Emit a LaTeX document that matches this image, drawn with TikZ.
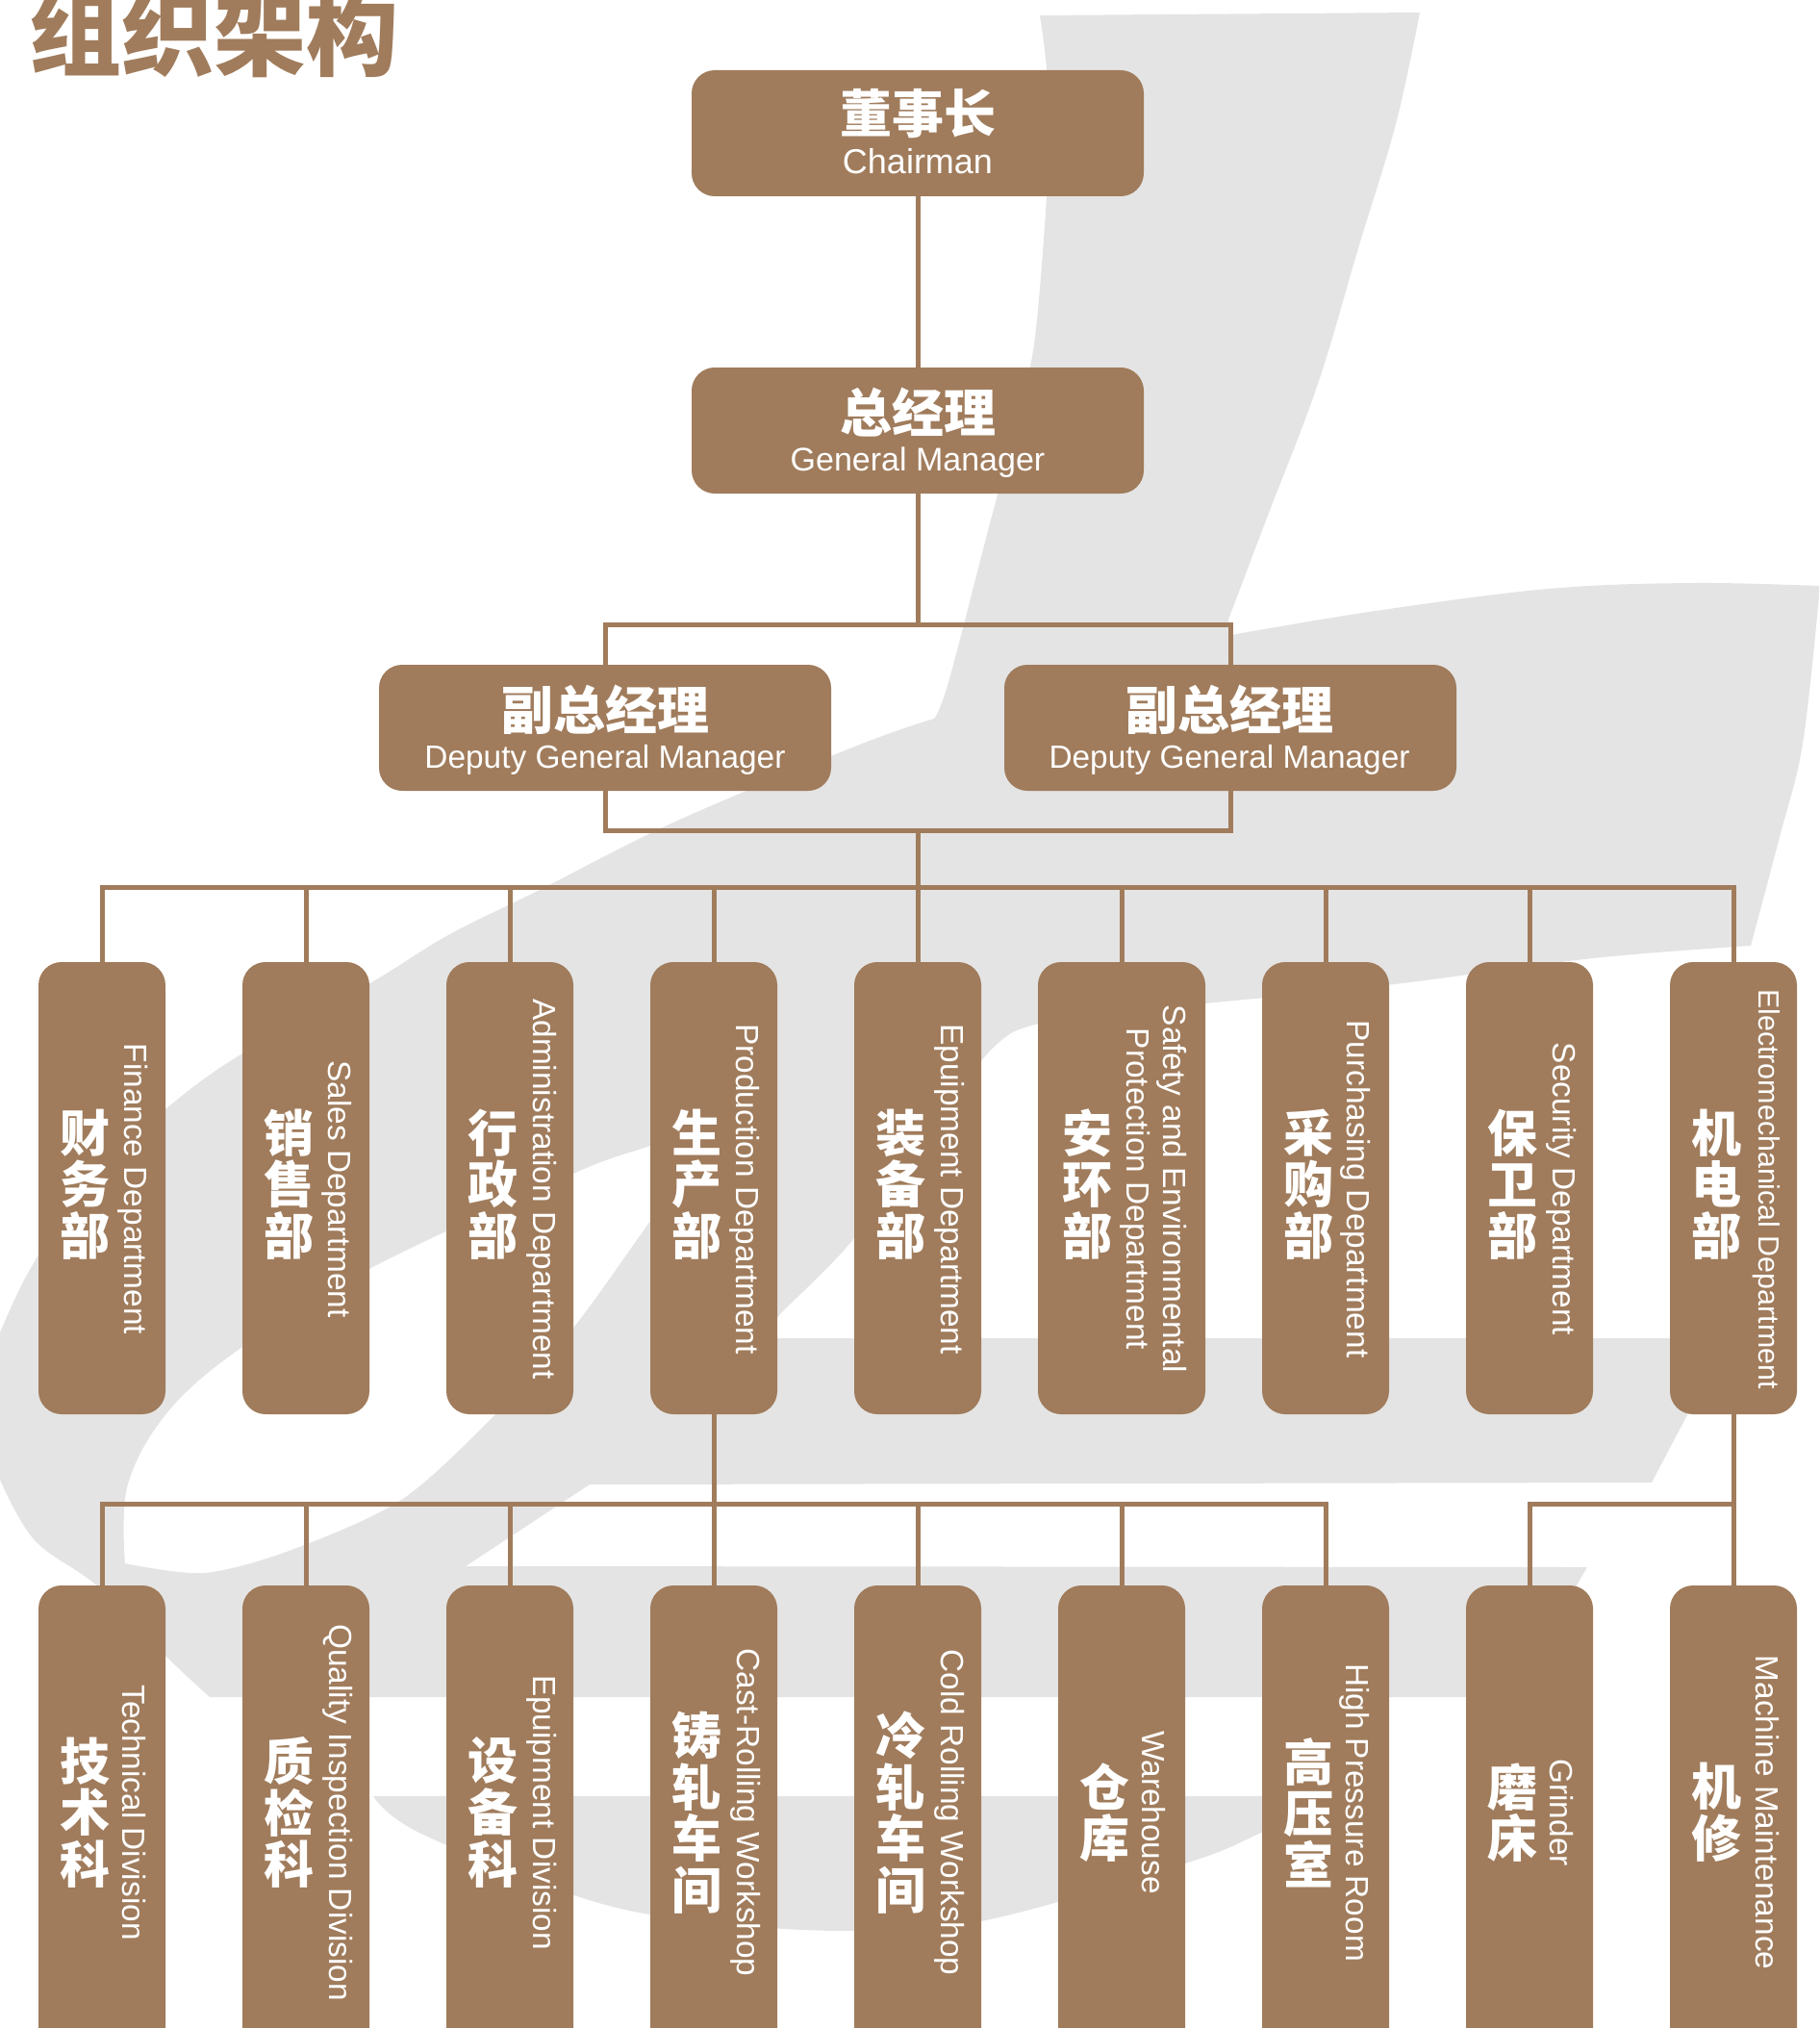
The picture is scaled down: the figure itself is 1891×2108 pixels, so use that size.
\documentclass[tikz,border=0pt]{standalone}
\usepackage{fontspec}
\setmainfont{Liberation Sans}
\newfontfamily\zhfont{Noto Sans CJK SC}
\definecolor{brownbox}{HTML}{A07C5C}
\definecolor{wash}{HTML}{E4E4E4}
\tikzset{
  card/.style={draw=none,fill=brownbox,rounded corners=12pt,inner sep=0pt},
  wide/.style={card,minimum width=235pt,minimum height=65.5pt},
  tall/.style={card,minimum width=66pt,minimum height=235pt},
  lower/.style={card,minimum width=66pt,minimum height=261pt},
  link/.style={draw=brownbox,line width=2.5pt},
  zh/.style={text=white,inner sep=0pt,align=center,font=\zhfont\bfseries\fontsize{26}{26.8}\selectfont},
  zhtop/.style={text=white,inner sep=0pt,align=center,font=\zhfont\bfseries\fontsize{27}{28}\selectfont},
  en/.style={text=white,inner sep=0pt,align=center,font=\fontsize{16.7}{18.8}\selectfont},
}
\newcommand{\upcard}[3]{% name,cx,zh
  \node[tall] (#1) at (#2,1235) {};
  \node[zh] (#1z) at ({#2-18},1231) {#3};
}
\newcommand{\upen}[3]{\node[en,rotate=-90] (#1e) at ({#2+33},1236) {#3};}
\newcommand{\lowcard}[3]{%
  \node[lower] (#1) at (#2,1909) {};
  \node[zh] (#1z) at ({#2-18},1884) {#3};
}
\newcommand{\lowen}[3]{\node[en,rotate=-90] (#1e) at ({#2+33},1884) {#3};}
\begin{document}
\begin{tikzpicture}[x=0.5pt,y=-0.5pt]
\useasboundingbox (0,0) rectangle (1891,2108);
\clip (0,0) rectangle (1891,2108);
% background swoosh
\fill[wash] (1081,16) -- (1476,13)
  -- plot[smooth,tension=.6] coordinates {(1476,13)(1451,129)(1412,258)(1370,399)(1316,541)(1277,644)}
  -- plot[smooth,tension=.6] coordinates {(1280,660)(1430,635)(1610,612)(1760,606)(1891,609)}
  -- plot[smooth,tension=.6] coordinates {(1891,619)(1874,773)(1850,870)(1820,983)}
  -- plot[smooth,tension=.5] coordinates {(1820,983)(1656,996)(1433,1025)(1146,1054)(1057,1071)(1018,1105)}
  -- plot[smooth,tension=.4] coordinates {(1018,1105)(888,1287)(810,1367)(795,1391)}
  -- (1796,1391) -- (1717,1541) -- (613,1543) -- (484,1628) -- (1650,1629) -- (1571,1764) -- (218,1764)
  -- plot[smooth,tension=.6] coordinates {(218,1764)(173,1722)(103,1650)(36,1601)(0,1538)}
  -- (0,1385)
  -- plot[smooth,tension=.6] coordinates {(0,1385)(32,1318)(90,1230)(172,1153)(252,1095)(383,1023)(466,972)(561,925)(702,854)(891,775)(971,747)}
  -- plot[smooth,tension=.6] coordinates {(971,747)(986,709)(1028,548)(1064,412)(1079,322)(1091,129)(1081,16)}
  -- cycle;
\fill[white] plot[smooth,tension=.6] coordinates {(130,1625)(133,1543)(176,1466)(255,1398)(386,1318)(596,1220)(676,1191)(752,1164)}
  -- plot[smooth,tension=.5] coordinates {(752,1164)(676,1269)(596,1380)(511,1474)(417,1559)(303,1611)(212,1635)(130,1625)} -- cycle;
\fill[wash] plot[smooth,tension=.6] coordinates {(388,1867)(436,1905)(606,1973)(727,1997)(879,2007)(1020,1997)(1232,1937)(1311,1905)(1390,1867)} -- cycle;
% title
\node[text=brownbox,inner sep=0pt,font=\zhfont\bfseries\fontsize{48}{48}\selectfont] (title) at (222,35) {组织架构};
% top cards
\node[wide] (chair) at (954,138.5) {};
\node[zhtop] (chairz) at (954,118) {董事长};
\node[en,font=\fontsize{18}{20}\selectfont] (chaire) at (954,168) {Chairman};
\node[wide] (gm) at (954,447.5) {};
\node[zhtop] (gmz) at (954,429) {总经理};
\node[en,font=\fontsize{17}{20}\selectfont] (gme) at (954,481) {General Manager};
\node[wide] (da) at (629,756.5) {};
\node[zhtop] (daz) at (629,738) {副总经理};
\node[en,font=\fontsize{16.7}{20}\selectfont] (dae) at (629,790) {Deputy General Manager};
\node[wide] (db) at (1279,756.5) {};
\node[zhtop] (dbz) at (1278,738) {副总经理};
\node[en,font=\fontsize{16.7}{20}\selectfont] (dbe) at (1278,790) {Deputy General Manager};
% departments
\upcard{fin}{106}{财\\务\\部}\upen{fin}{105}{Finance Department}
\upcard{sal}{318}{销\\售\\部}\upen{sal}{317}{Sales Department}
\upcard{adm}{530}{行\\政\\部}\upen{adm}{530}{Administration Department}
\upcard{pro}{742}{生\\产\\部}\upen{pro}{741}{Production Department}
\upcard{equ}{954}{装\\备\\部}\upen{equ}{954}{Epuipment Department}
\node[tall,minimum width=87pt] (saf) at (1166,1235) {};
\node[zh] (safz) at (1130,1231) {安\\环\\部};
\node[en,rotate=-90] (safe) at (1199,1236) {Safety and Environmental\\Protection Department};
\upcard{pur}{1378}{采\\购\\部}\upen{pur}{1376}{Purchasing Department}
\upcard{sec}{1590}{保\\卫\\部}\upen{sec}{1590}{Security Department}
\upcard{ele}{1802}{机\\电\\部}
\node[en,rotate=-90,font=\fontsize{15.2}{18}\selectfont] (elee) at (1836,1236) {Electromechanical Department};
% divisions
\lowcard{tec}{106}{技\\术\\科}\lowen{tec}{106}{Technical Division}
\lowcard{qua}{318}{质\\检\\科}\lowen{qua}{318}{Quality Inspection Division}
\lowcard{eqd}{530}{设\\备\\科}\lowen{eqd}{530}{Epuipment Division}
\lowcard{cas}{742}{铸\\轧\\车\\间}\lowen{cas}{742}{Cast-Rolling Workshop}
\lowcard{col}{954}{冷\\轧\\车\\间}\lowen{col}{954}{Cold Rolling Workshop}
\lowcard{war}{1166}{仓\\库}\lowen{war}{1166}{Warehouse}
\lowcard{hig}{1378}{高\\压\\室}\lowen{hig}{1375}{High Pressure Room}
\lowcard{gri}{1590}{磨\\床}\lowen{gri}{1590}{Grinder}
\lowcard{mac}{1802}{机\\修}\lowen{mac}{1804}{Machine Maintenance}
% junctions
\coordinate (ja) at (954,649);
\coordinate (jb) at (954,863);
\coordinate (jc) at (954,922);
\coordinate (jd) at (742,1563);
\coordinate (je) at (1802,1563);
% connectors
\draw[link] (chair.south) -- (gm.north);
\draw[link] (gm.south) -- (ja);
\draw[link] (da.north) |- (ja) -| (db.north);
\draw[link] (da.south) |- (jb) -| (db.south);
\draw[link] (jb) -- (equ.north);
\draw[link] (fin.north) |- (jc) -| (ele.north);
\foreach \n in {sal,adm,pro,saf,pur,sec}{\draw[link] (\n.north) -- (\n.north |- jc);}
\draw[link] (pro.south) -- (cas.north);
\draw[link] (tec.north) |- (jd) -| (hig.north);
\foreach \n in {qua,eqd,col,war}{\draw[link] (\n.north) -- (\n.north |- jd);}
\draw[link] (ele.south) -- (mac.north);
\draw[link] (gri.north) |- (je);
\end{tikzpicture}
\end{document}
